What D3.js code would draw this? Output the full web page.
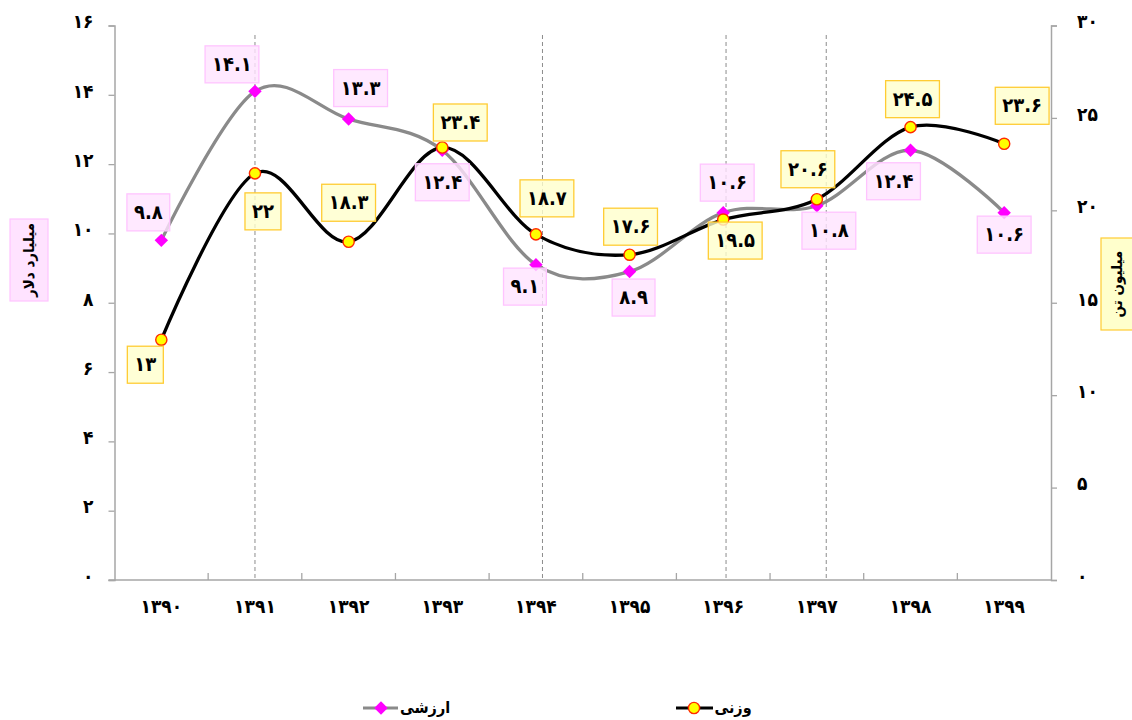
<!DOCTYPE html>
<html>
<head>
<meta charset="utf-8">
<script src="https://cdn.jsdelivr.net/npm/d3@7"></script>
<style>
  body { margin: 0; background: #fff; }
  svg { display: block; font-family: "DejaVu Sans Condensed", "DejaVu Sans", sans-serif; font-weight: bold; }
</style>
</head>
<body>
<div id="grafica"></div>
<script>
// datos
var years = ["1390", "1391", "1392", "1393", "1394", "1395", "1396", "1397", "1398", "1399"];
var arzeshi = [9.8, 14.1, 13.3, 12.4, 9.1, 8.9, 10.6, 10.8, 12.4, 10.6];   // میلیارد دلار
var vazni = [13, 22, 18.3, 23.4, 18.7, 17.6, 19.5, 20.6, 24.5, 23.6];      // میلیون تن
var leftTicks = [0, 2, 4, 6, 8, 10, 12, 14, 16];
var rightTicks = [0, 5, 10, 15, 20, 25, 30];
var dashAt = [1, 4.07, 6.03, 7.1]; // lineas punteadas (indice de categoria)

// posicion de etiquetas (dx, dy respecto al punto)
var offArz = [[-13, -28], [-23, -27], [12, -31], [0, 32], [-11, 22], [4, 26], [4, -30], [12, 25], [-17, 31], [0, 22]];
var offVaz = [[-16, 25], [8, 38], [0, -39], [18, -25], [11, -36], [1, -28], [12, 21], [-9, -30], [2, -28], [18, -38]];

var fa = function (s) { return String(s).replace(/\d/g, function (d) { return "۰۱۲۳۴۵۶۷۸۹"[d]; }); };
var fuente = "DejaVu Sans Condensed, DejaVu Sans";

var svg = d3.select("#grafica").append("svg")
  .attr("width", 1132).attr("height", 720);

var mLeft = 114.5, mRight = 1051, mTop = 25.5, mBottom = 580;

var x = d3.scaleBand().domain(years).range([mLeft, mRight]);
var xi = d3.scaleLinear().domain([-0.5, years.length - 0.5]).range([mLeft, mRight]);
var yL = d3.scaleLinear().domain([0, 16]).range([mBottom, mTop]);
var yR = d3.scaleLinear().domain([0, 30]).range([mBottom, mTop]);
var cx = function (d, i) { return x(years[i]) + x.bandwidth() / 2; };

var axisColor = "#a6a6a6";

// lineas punteadas
svg.append("g").selectAll("line").data(dashAt).enter().append("line")
  .attr("x1", function (d) { return xi(d); }).attr("x2", function (d) { return xi(d); })
  .attr("y1", 35).attr("y2", mBottom - 2)
  .attr("stroke", "#8c8c8c").attr("stroke-width", 1).attr("stroke-dasharray", "4,3");

// eje izquierdo
var gL = svg.append("g").attr("transform", "translate(" + mLeft + ",0)")
  .call(d3.axisLeft(yL).tickValues(leftTicks).tickSize(6).tickPadding(15).tickFormat(fa));
// eje derecho
var gR = svg.append("g").attr("transform", "translate(" + mRight + ",0)")
  .call(d3.axisRight(yR).tickValues(rightTicks).tickSize(6).tickPadding(20).tickFormat(fa));
// eje x
var gX = svg.append("g").attr("transform", "translate(0," + mBottom + ")")
  .call(d3.axisBottom(x).tickSize(0).tickPadding(20).tickFormat(fa));
gX.selectAll(".tick line").remove();
svg.append("g").selectAll("line").data(years.slice(1)).enter().append("line")
  .attr("x1", function (d) { return x(d); }).attr("x2", function (d) { return x(d); })
  .attr("y1", mBottom).attr("y2", mBottom - 7)
  .attr("stroke", axisColor).attr("stroke-width", 1.3);

[gL, gR, gX].forEach(function (g) {
  g.select(".domain").attr("stroke", axisColor).attr("stroke-width", 1.5);
  g.selectAll(".tick line").attr("stroke", axisColor).attr("stroke-width", 1.3);
  g.selectAll("text").attr("font-size", 19).attr("font-family", fuente).attr("font-weight", "bold").attr("fill", "#000");
});
gL.selectAll(".tick text").attr("dy", "0.12em");
gR.selectAll(".tick text").attr("dy", "0.12em");
gX.select(".domain").attr("d", "M" + (mLeft - 6) + ",0H" + mRight);

// curvas
var curve = d3.curveCardinal.tension(0);
svg.append("path").datum(arzeshi)
  .attr("d", d3.line().x(cx).y(function (d) { return yL(d); }).curve(curve))
  .attr("fill", "none").attr("stroke", "#8a8a8a").attr("stroke-width", 3.3);
svg.append("path").datum(vazni)
  .attr("d", d3.line().x(cx).y(function (d) { return yR(d); }).curve(curve))
  .attr("fill", "none").attr("stroke", "#000").attr("stroke-width", 3.3);

var diamond = d3.symbol().type(d3.symbolDiamond2).size(115);
svg.append("g").selectAll("path").data(arzeshi).enter().append("path")
  .attr("d", diamond)
  .attr("transform", function (d, i) { return "translate(" + cx(d, i) + "," + yL(d) + ")"; })
  .attr("fill", "#ff00ff");
svg.append("g").selectAll("circle").data(vazni).enter().append("circle")
  .attr("cx", cx).attr("cy", function (d) { return yR(d); }).attr("r", 5.6)
  .attr("fill", "#ffff00").attr("stroke", "#ff2a00").attr("stroke-width", 1.4);

// etiquetas
function etiquetas(data, yS, off, fill, stroke) {
  var g = svg.append("g");
  data.forEach(function (d, i) {
    var px = cx(d, i) + off[i][0], py = yS(d) + off[i][1];
    var lab = g.append("g");
    var r = lab.append("rect");
    var t = lab.append("text").attr("x", px).attr("y", py).attr("dy", "0.33em")
      .attr("text-anchor", "middle").attr("font-size", 20).text(fa(d));
    var w = t.node().getBBox().width + 14, h = 37;
    r.attr("x", px - w / 2).attr("y", py - h / 2).attr("width", w).attr("height", h)
      .attr("fill", fill).attr("fill-opacity", 0.8).attr("stroke", stroke).attr("stroke-width", 1.3);
  });
}
etiquetas(arzeshi, yL, offArz, "#ffe3ff", "#ffc4ff");
etiquetas(vazni, yR, offVaz, "#ffffcc", "#ffcc33");

// titulos de ejes
function titulo(px, py, w, h, txt, fill, stroke) {
  svg.append("rect").attr("x", px - w / 2).attr("y", py - h / 2).attr("width", w).attr("height", h)
    .attr("fill", fill).attr("stroke", stroke).attr("stroke-width", 1.2);
  svg.append("text").attr("transform", "translate(" + px + "," + py + ") rotate(-90)")
    .attr("text-anchor", "middle").attr("dy", "0.35em").attr("font-size", 15).text(txt);
}
titulo(29, 260, 38, 82, "میلیارد دلار", "#ffe3ff", "#ffc4ff");
titulo(1117, 284, 32, 92, "میلیون تن", "#ffffcc", "#ffcc33");

// leyenda
var leg = svg.append("g");
leg.append("line").attr("x1", 363).attr("x2", 398).attr("y1", 708).attr("y2", 708)
  .attr("stroke", "#8a8a8a").attr("stroke-width", 3);
leg.append("path").attr("d", diamond).attr("transform", "translate(381,708)").attr("fill", "#ff00ff");
leg.append("text").attr("x", 425).attr("y", 708).attr("dy", "0.3em").attr("text-anchor", "middle")
  .attr("font-size", 16).text("ارزشی");
leg.append("line").attr("x1", 676).attr("x2", 713).attr("y1", 708).attr("y2", 708)
  .attr("stroke", "#000").attr("stroke-width", 3);
leg.append("circle").attr("cx", 694).attr("cy", 708).attr("r", 5.6)
  .attr("fill", "#ffff00").attr("stroke", "#ff2a00").attr("stroke-width", 1.4);
leg.append("text").attr("x", 733).attr("y", 708).attr("dy", "0.3em").attr("text-anchor", "middle")
  .attr("font-size", 16).text("وزنی");
</script>
</body>
</html>
